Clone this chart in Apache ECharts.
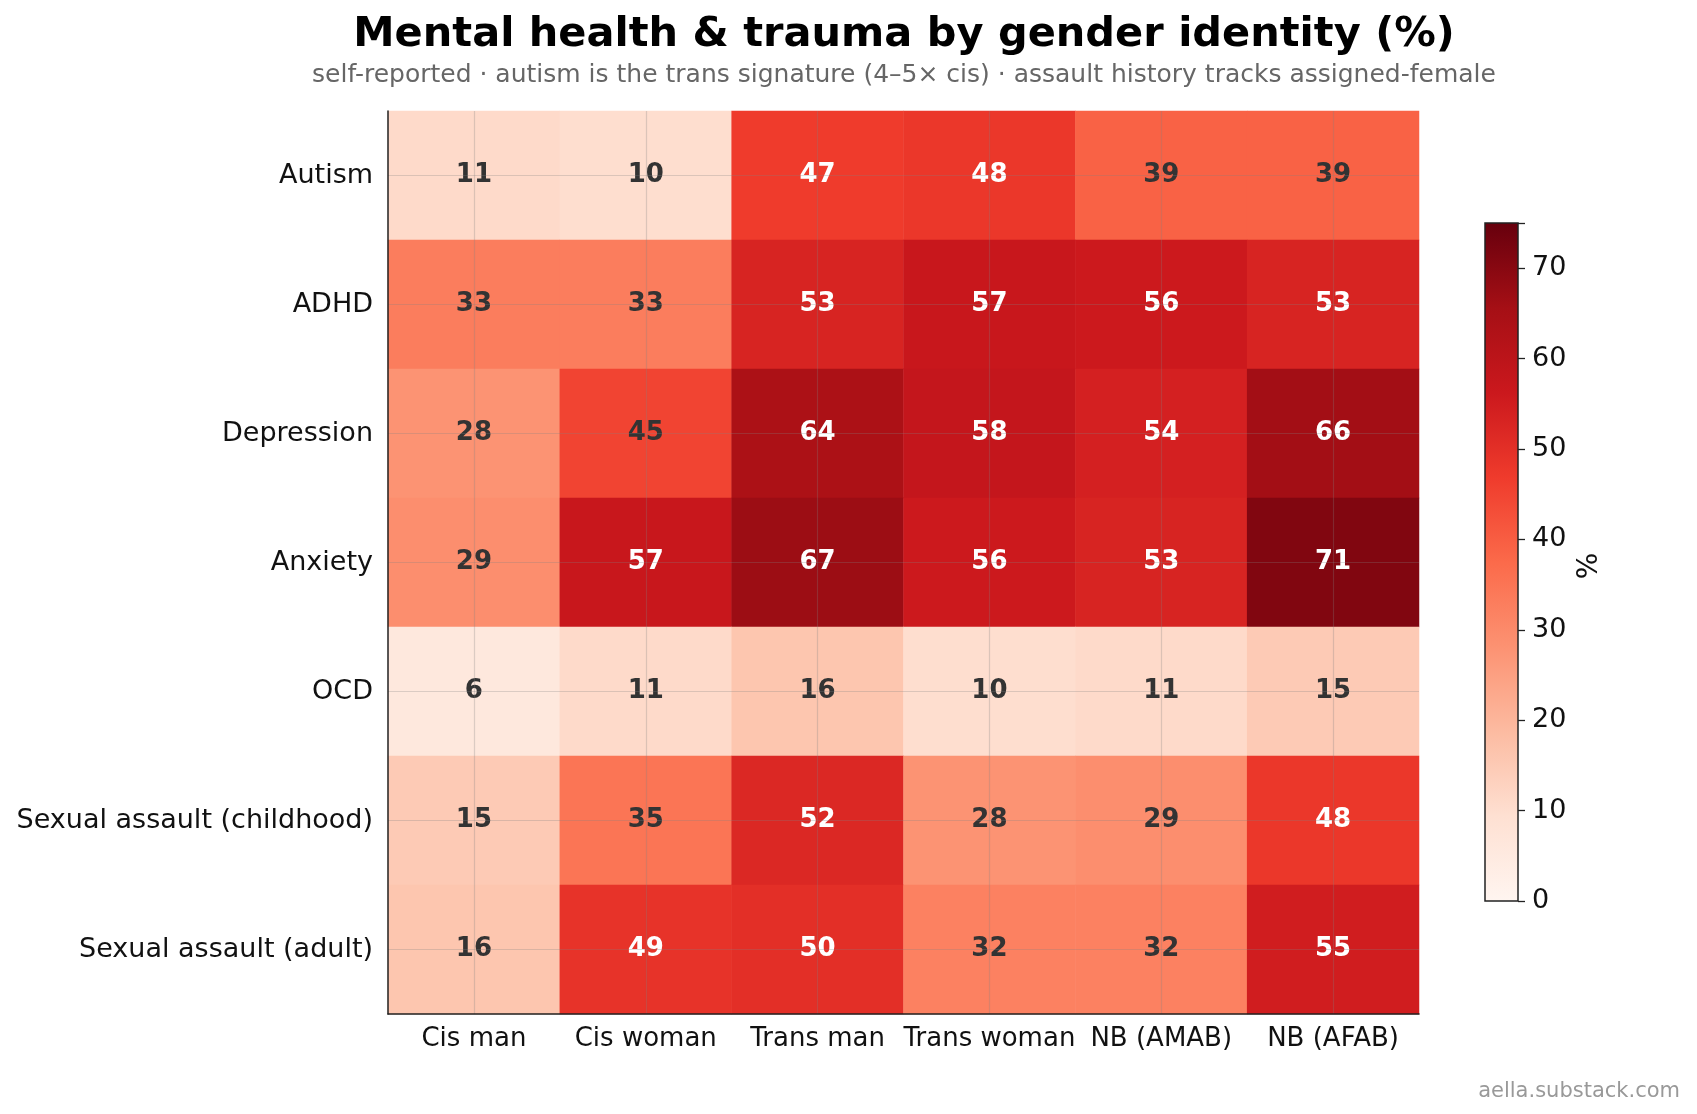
<!DOCTYPE html>
<html>
<head>
<meta charset="utf-8">
<script src="https://cdn.jsdelivr.net/npm/echarts@6/dist/echarts.min.js"></script>
<style>
  html, body { margin: 0; padding: 0; background: #fff; }
  #chart { width: 1697px; height: 1114px; }
</style>
</head>
<body>
<div id="chart"></div>
<script>
// groups on x, conditions on y
var groups = ['Cis man', 'Cis woman', 'Trans man', 'Trans woman', 'NB (AMAB)', 'NB (AFAB)'];
var conditions = ['Autism', 'ADHD', 'Depression', 'Anxiety', 'OCD', 'Sexual assault (childhood)', 'Sexual assault (adult)'];

var autism     = [11, 10, 47, 48, 39, 39];
var adhd       = [33, 33, 53, 57, 56, 53];
var depression = [28, 45, 64, 58, 54, 66];
var anxiety    = [29, 57, 67, 56, 53, 71];
var ocd        = [6, 11, 16, 10, 11, 15];
var saChild    = [15, 35, 52, 28, 29, 48];
var saAdult    = [16, 49, 50, 32, 32, 55];
var rows = [autism, adhd, depression, anxiety, ocd, saChild, saAdult];

var cbarMax = 75;
var cbarTicks = [0, 10, 20, 30, 40, 50, 60, 70];

// matplotlib "Reds"
var reds = ['#fff5f0', '#fee0d2', '#fcbba1', '#fc9272', '#fb6a4a', '#ef3b2c', '#cb181d', '#a50f15', '#67000d'];

var font = 'DejaVu Sans';
var chart = echarts.init(document.getElementById('chart'));

var stops = reds.map(function (col, i) {
  return { offset: i / (reds.length - 1), color: col };
});

// one item per cell, white text on the dark ones
var cells = [];
rows.forEach(function (vals, r) {
  vals.forEach(function (v, c) {
    cells.push({ value: [c, r, v], label: { color: v > 45 ? '#ffffff' : '#333333' } });
  });
});

var gridLine = { show: true, alignWithLabel: true, lineStyle: { color: 'rgba(128,128,128,0.28)', width: 1.2 } };

var option = {
  backgroundColor: '#ffffff',
  animation: false,
  textStyle: { fontFamily: font },
  grid: [
    { left: 388, top: 111, width: 1031, height: 903 },
    { left: 1485, top: 223, width: 33, height: 678, show: true, borderColor: '#222', borderWidth: 1.5, z: 10 }
  ],
  xAxis: [
    {
      type: 'category', data: groups, gridIndex: 0, z: 5,
      axisLine: { lineStyle: { color: '#222', width: 1.5 } },
      axisTick: { alignWithLabel: true, length: 7, lineStyle: { color: '#222', width: 1.3 } },
      axisLabel: { interval: 0, color: '#111', fontSize: 26, margin: 12, fontFamily: font },
      splitLine: gridLine
    },
    { type: 'category', data: ['%'], gridIndex: 1, show: false }
  ],
  yAxis: [
    {
      type: 'category', data: conditions, gridIndex: 0, inverse: true, z: 5,
      axisLine: { lineStyle: { color: '#222', width: 1.5 } },
      axisTick: { alignWithLabel: true, length: 7, lineStyle: { color: '#222', width: 1.3 } },
      axisLabel: { interval: 0, color: '#111', fontSize: 27, margin: 15, fontFamily: font },
      splitLine: gridLine
    },
    {
      type: 'value', gridIndex: 1, min: 0, max: cbarMax, interval: 10, position: 'right',
      axisLine: { show: false },
      axisTick: { show: true, length: 7, lineStyle: { color: '#222', width: 1.3 } },
      axisLabel: {
        color: '#111', fontSize: 27, margin: 14, fontFamily: font,
        formatter: function (v) { return cbarTicks.indexOf(v) >= 0 ? String(v) : ''; }
      },
      splitLine: { show: false }
    }
  ],
  visualMap: {
    show: false, type: 'continuous', seriesIndex: 0, dimension: 2,
    min: 0, max: cbarMax, inRange: { color: reds }
  },
  series: [
    {
      type: 'heatmap', xAxisIndex: 0, yAxisIndex: 0, data: cells,
      label: {
        show: true, fontSize: 26, fontWeight: 'bold', fontFamily: font,
        formatter: function (p) { return p.value[2]; }
      },
      emphasis: { disabled: true }
    },
    {
      type: 'bar', xAxisIndex: 1, yAxisIndex: 1, data: [cbarMax], barWidth: '100%',
      silent: true,
      itemStyle: { color: new echarts.graphic.LinearGradient(0, 1, 0, 0, stops) }
    }
  ],
  graphic: [
    {
      type: 'text', x: 904, y: 35,
      style: { text: 'Mental health & trauma by gender identity (%)', fill: '#000', font: 'bold 41.5px "DejaVu Sans"', textAlign: 'center', textVerticalAlign: 'middle' }
    },
    {
      type: 'text', x: 904, y: 75,
      style: { text: 'self-reported · autism is the trans signature (4–5× cis) · assault history tracks assigned-female', fill: '#666', font: '25px "DejaVu Sans"', textAlign: 'center', textVerticalAlign: 'middle' }
    },
    {
      type: 'text', x: 1590, y: 566, rotation: Math.PI / 2,
      style: { text: '%', fill: '#111', font: '28px "DejaVu Sans"', textAlign: 'center', textVerticalAlign: 'middle' }
    },
    {
      type: 'text', right: 17, bottom: 12,
      style: { text: 'aella.substack.com', fill: '#999', font: '21px "DejaVu Sans"' }
    }
  ]
};

chart.setOption(option);
</script>
</body>
</html>
